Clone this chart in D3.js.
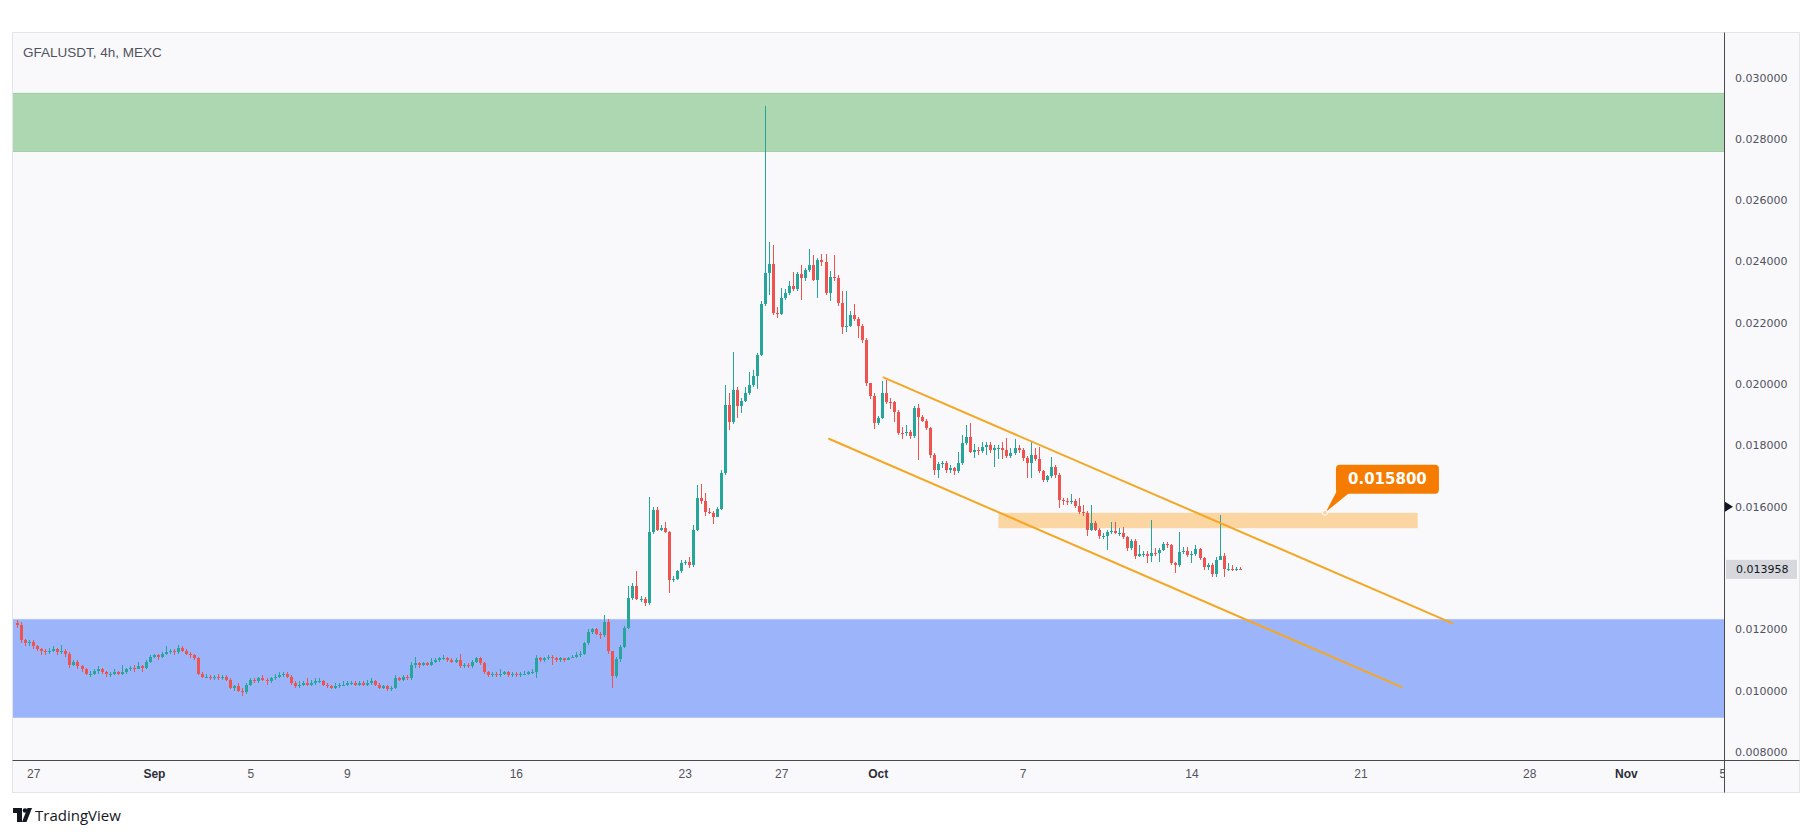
<!DOCTYPE html>
<html><head><meta charset="utf-8">
<script src="https://cdn.jsdelivr.net/npm/d3@7"></script>
<style>body{margin:0;background:#fff;} svg{display:block}</style>
</head><body>
<svg id="c" width="1814" height="836"></svg>
<script>
// ---------------- DATA ----------------
const UNIT = 1e-4;                       // prices below are in units of 0.0001
const firstCandle = Date.UTC(2024, 7, 26, 8);  // first 4h candle
const candleMs = 4 * 3600 * 1000;

const opens = [122, 121.5,
116.5,115.5,116,114.5,113.5,113,112.5,113,113.5,112.5,
113,112,108.5,109.5,108,107,105.5,105.5,106.5,107,
106,105.5,105.5,106,105.5,106,107,107.5,107,108,
107.5,109.5,111,111.5,111,112,112.5,113,112.5,114,
113,112,111.5,110.5,105.5,104.5,104.5,104,104.5,104,
104.5,103.5,101,101.5,100,99.5,102,103.5,103,104,
103.5,103,104,104.5,105,105.5,104.5,102.5,101.5,102,
102.5,102,102.5,103,103,102,101.5,101,101.5,102,
102,102.5,102.5,102,102.5,102,102.5,103,102,101,
101.5,100.5,101,104,103.5,104.5,104,108.5,109,108.5,
109,108.5,109.5,110,110.5,110.5,110,109.5,110,108,
108.5,108,109.5,110.5,109,106,105,105.5,105,105.5,
106,105,105.5,105,105.5,105.5,106,106,110.5,110,
110.5,111,110.5,110,110.5,110,110.5,111,111.5,112,
115.5,119,120,118.5,118,122.5,112.8,104.7,110.2,114.4,
120.4,130.2,134,130,130,128.5,151.9,159,152.5,153,
151.9,136.2,136.5,138.9,141.7,141.9,140.9,152.5,162.9,161.8,
158.4,158,156.6,159.3,171,193.2,187.5,198,192.7,194.6,
197.2,199.8,202.5,209.5,226,236.3,239.2,223.1,223,228,
229.8,232,231,235.9,234.7,237.2,238.9,234,240.5,239.8,
229.8,235,234.5,226.4,218.6,219,222.6,221.2,219,214.4,
200.3,196,187.3,188.9,197,194.3,194,191,184.2,184,
184.5,183,192.1,189.4,188,185.6,176.9,172,174,174.2,
172,172.5,171.5,174.2,180.7,182.9,178,178.5,178.2,179.5,
180,178.4,179,179,178.4,176.4,177.4,179,178.4,175.9,
174.4,177,175.5,171.5,168.8,169.9,172.9,170.4,162.3,161.8,
161.5,161.8,160.1,158.4,157.8,152.5,154.7,152.5,150.3,150.5,
151.9,152,151.5,151.5,150,146.5,148.7,143.8,144.6,144.6,
144,144.9,144.8,145.9,147.8,147.5,141.6,141,145.1,145.4,
144.3,144.5,146.2,143.3,140.3,141,138.1,142.7,144,139.7,
139.7,139.5,139.6];

const highs = [123,
122.5,117,116.5,116.5,115,114,113.5,114,114.5,114,
115,113.5,112.5,110,110,108.5,107.5,106.5,107,108,
107.5,106.5,106,107,106.5,108.5,107.5,108,108.5,109.5,
108.5,110,111.5,112,112,112.5,114.5,113.5,113.5,115,
114.5,113.5,112.5,112,111,106,105.5,105,105,105.5,
105,105,104,102,102.5,101,102.5,104,104,104.5,
105,104,104.5,105.5,106,106,106,105,103,103,
103,104,103.5,104,104,103.5,102.5,102,102.5,102.5,
103,103,103,103,103,103,103.5,104,103.5,102.5,
102,102,101.5,105,104.5,105,105,109.5,111,109.5,
109.5,109.5,110.5,110.5,111,111.5,111,110.5,110.5,112,
109,109,110,111,111,109.5,106.5,106,106,107,
106.5,106.5,106,106,106,106.5,106.5,107,111.5,111,
111,111.5,111.5,111,111,110.5,111,111.5,112.5,113,
116,120,120.5,120.5,119,124.8,123.5,113,111,115,
121,134,135,139,131,130.5,163.3,160,160,154,
155,152,137.5,139.5,142.5,142.5,143.5,154,167,167.5,
164.5,159.5,158.5,160,172,199.8,197,210.6,199,195.5,
199,204,204.5,210,227,290.7,246.5,245.5,225,231.5,
231,233.5,236.5,236.5,239,238,244,242,241,242.5,
242.5,237,242,235.5,230.5,230.5,224,226,222,219.5,
215,200.5,197,189.5,201,201.4,195.5,194.5,191.5,186,
186.5,185,193,193.5,190,188.5,186,177.5,174.5,175,
175,173.5,173,178,183.5,186.7,187.3,180.5,179.5,181,
181,181,180,180,181,182.5,179,182,180,179,
176.5,181,179,179.5,172,170.5,176.2,173.5,171,163,
163,164,162.5,163,160.5,158.5,160.6,155.5,153,151.5,
152.5,155,155,153,153.5,150.5,149.5,149.5,147.5,145.5,
145.5,155.8,146.5,146.5,148.5,148.5,148,142,151.9,147,
147,145.5,147.5,146.5,143.5,141.5,141.5,143.5,157.4,145,
141.5,141,140.5,140.5];

const lows = [120.5,
115.5,114.5,114.5,113.5,113,111.5,111.5,112,112.5,111.5,
112,111,107.5,108,107,106,105,104.5,105,105.5,
105.5,104.5,104.5,105,105,105,105.5,106.5,106,107,
106,107,109,110.5,110,110.5,111.5,112,111.5,112,
112.5,111.5,110.5,110,105,104,104,103.5,103.5,103.5,
103.5,103,100.5,100,99.5,98.3,99,101.5,102.5,102.5,
103,102,102.5,103.5,104,104.5,104,102,101,101,
101.5,101.5,101.5,102,102.5,101.5,101,100.5,100.5,101,
101.5,101.5,102,101.5,101.5,101.5,101.5,102,101.5,100.5,
100.5,100,100,100.5,103,103,103.5,103.5,107.5,107.5,
108,108,108,109,109.5,110,109.5,109,109,107.5,
107.5,107.5,107.5,109,108.5,105.5,104.5,104.5,104.5,104.5,
105,104.5,104.5,104.5,104.5,105,105,105.5,104,109.5,
109.5,110,108.5,109.5,109.5,109.5,110,110.5,110.5,111,
111.5,115,118.5,118,117,117.5,112,101,104,109.5,
114,120,129.5,129.5,129,127.7,128,151,152,152,
151.5,132,135.5,136,138.5,141,140,140.5,152,161,
157,157.5,154.5,156.5,159,170.5,185,187,189,190.5,
194,196.5,199,198.5,209,225.5,229,222.5,221.5,222.5,
227.5,229,230.5,230.5,227.5,233.5,236.5,233.5,228,238.5,
229,227,233.5,225.5,216.5,217,218.5,220.5,215,213.5,
199.5,195,185.5,186.5,188.5,193.5,192,187.5,183.5,182,
183,182,182.5,175.3,187.5,185,176,170.5,169.5,172.5,
171,171,170.5,171,173.5,180,177.5,176,177,177.5,
177,177.5,173,175.5,175.5,176,176,177,177.5,175,
169.5,169.5,175,171,168,168,169.5,169.5,159.5,160.5,
160.5,161,159.5,157.5,157,150.5,152,152,149.5,149.5,
146,151,151,150.5,149.5,145.5,146,143,143.5,143.5,
141.5,142,144,142,145.5,146.5,141,138.5,140.5,144.5,
143.5,141.5,144,142.5,139.5,139.5,137,137,142.5,137,
139,139,139,139.2];

const closes = [121.5,
116.5,115.5,116,114.5,113.5,113,112.5,113,113.5,112.5,
113,112,108.5,109.5,108,107,105.5,105.5,106.5,107,
106,105.5,105.5,106,105.5,106,107,107.5,107,108,
107.5,109.5,111,111.5,111,112,112.5,113,112.5,114,
113,112,111.5,110.5,105.5,104.5,104.5,104,104.5,104,
104.5,103.5,101,101.5,100,99.5,102,103.5,103,104,
103.5,103,104,104.5,105,105.5,104.5,102.5,101.5,102,
102.5,102,102.5,103,103,102,101.5,101,101.5,102,
102,102.5,102.5,102,102.5,102,102.5,103,102,101,
101.5,100.5,101,104,103.5,104.5,104,108.5,109,108.5,
109,108.5,109.5,110,110.5,110.5,110,109.5,110,108,
108.5,108,109.5,110.5,109,106,105,105.5,105,105.5,
106,105,105.5,105,105.5,105.5,106,106,110.5,110,
110.5,111,110.5,110,110.5,110,110.5,111,111.5,112,
115.5,119,120,118.5,118,122.5,112.8,104.7,110.2,114.4,
120.4,130.2,134,130,130,128.5,151.9,159,152.5,153,
151.9,136.2,136.5,138.9,141.7,141.9,140.9,152.5,162.9,161.8,
158.4,158,156.6,159.3,171,193.2,187.5,198,192.7,194.6,
197.2,199.8,202.5,209.5,226,236.3,239.2,223.1,223,228,
229.8,232,231,235.9,234.7,237.2,238.9,234,240.5,239.8,
229.8,235,234.5,226.4,218.6,219,222.6,221.2,219,214.4,
200.3,196,187.3,188.9,197,194.3,194,191,184.2,184,
184.5,183,192.1,189.4,188,185.6,176.9,172,174,174.2,
172,172.5,171.5,174.2,180.7,182.9,178,178.5,178.2,179.5,
180,178.4,179,179,178.4,176.4,177.4,179,178.4,175.9,
174.4,177,175.5,171.5,168.8,169.9,172.9,170.4,162.3,161.8,
161.5,161.8,160.1,158.4,157.8,152.5,154.7,152.5,150.3,150.5,
151.9,152,151.5,151.5,150,146.5,148.7,143.8,144.6,144.6,
144,144.9,144.8,145.9,147.8,147.5,141.6,141,145.1,145.4,
144.3,144.5,146.2,143.3,140.3,141,138.1,142.7,144,139.7,
139.7,139.5,139.6,139.58];

const priceTicks = [0.008,0.010,0.012,0.014,0.016,0.018,0.020,0.022,0.024,0.026,0.028,0.030];
const dateTicks = ["2024-08-27","2024-09-01","2024-09-05","2024-09-09","2024-09-16","2024-09-23",
                   "2024-09-27","2024-10-01","2024-10-07","2024-10-14","2024-10-21","2024-10-28",
                   "2024-11-01","2024-11-05"];
const dateLabels = ["27","Sep","5","9","16","23","27","Oct","7","14","21","28","Nov","5"];
const monthLabels = ["Sep","Oct","Nov"];

const supplyZone = [0.0276, 0.0295];        // green
const demandZone = [0.00913, 0.01234];      // blue
const keyZoneDates = ["2024-10-06T00:00Z", "2024-10-23T09:00Z"];
const keyZonePrices = [0.0153, 0.0158];
const channelUpper = [["2024-10-01T05:00Z", 0.020225], ["2024-10-24T20:20Z", 0.012188]];
const channelLower = [["2024-09-28T22:50Z", 0.018225], ["2024-10-22T17:45Z", 0.01011]];
const calloutPoint = ["2024-10-19T12:45Z", 0.0158];
const calloutText = "0.015800";
const alertPrice = 0.016;
const title = "GFALUSDT, 4h, MEXC";

// ---------------- DRAW ----------------
const svg = d3.select("#c");
const plotL = 13, plotR = 1724, plotT = 33, plotB = 760;

const x = d3.scaleUtc()
  .domain([new Date(Date.UTC(2024, 8, 1)), new Date(Date.UTC(2024, 10, 1))])
  .range([153.9, 1625.8]);
const y = d3.scaleLinear().domain([0.008, 0.030]).range([752, 77.5]);

svg.append("rect").attr("width", 1814).attr("height", 836).attr("fill", "#ffffff");
svg.append("rect").attr("x", 12.5).attr("y", 32.5).attr("width", 1787).attr("height", 760)
  .attr("fill", "#f9f9fb").attr("stroke", "#e3e5ea");

const defs = svg.append("defs");
defs.append("clipPath").attr("id", "plotClip").append("rect")
  .attr("x", plotL).attr("y", plotT).attr("width", plotR - plotL).attr("height", plotB - plotT);
defs.append("clipPath").attr("id", "xLabClip").append("rect")
  .attr("x", plotL).attr("y", plotB).attr("width", plotR - plotL).attr("height", 32);
defs.append("clipPath").attr("id", "yLabClip").append("rect")
  .attr("x", plotR).attr("y", plotT).attr("width", 80).attr("height", plotB - plotT - 1);

const plot = svg.append("g").attr("clip-path", "url(#plotClip)");

// zones
function band(p, fill, edge) {
  plot.append("rect").attr("x", plotL).attr("width", plotR - plotL)
    .attr("y", y(p[1])).attr("height", y(p[0]) - y(p[1])).attr("fill", fill);
  [p[0], p[1]].forEach(v => plot.append("line").attr("x1", plotL).attr("x2", plotR)
    .attr("y1", Math.round(y(v)) + 0.5).attr("y2", Math.round(y(v)) + 0.5)
    .attr("stroke", edge).attr("stroke-width", 1));
}
band(supplyZone, "#acd7b1", "#a3cfa8");
band(demandZone, "#9cb5fa", "#b4c6f6");

// key zone
const kz0 = x(new Date(keyZoneDates[0])), kz1 = x(new Date(keyZoneDates[1]));
plot.append("rect").attr("x", kz0).attr("width", kz1 - kz0)
  .attr("y", y(keyZonePrices[1])).attr("height", y(keyZonePrices[0]) - y(keyZonePrices[1]))
  .attr("fill", "#fcd6a2");

// candles
const times = opens.map((_, i) => new Date(firstCandle + i * candleMs));
const cg = plot.append("g").attr("shape-rendering", "crispEdges");
opens.forEach((o, i) => {
  const c = closes[i], h = highs[i], l = lows[i];
  const cx = Math.round(x(times[i]));
  const up = c >= o;
  const col = up ? "#26a69a" : "#ef5350";
  cg.append("rect").attr("x", cx).attr("width", 1)
    .attr("y", y(h * UNIT)).attr("height", Math.max(1, y(l * UNIT) - y(h * UNIT))).attr("fill", col);
  const top = y(Math.max(o, c) * UNIT), bot = y(Math.min(o, c) * UNIT);
  cg.append("rect").attr("x", cx - 1).attr("width", 3)
    .attr("y", top).attr("height", Math.max(1, bot - top)).attr("fill", col);
});

// channel lines
const lineGen = d3.line().x(d => x(new Date(d[0]))).y(d => y(d[1]));
[channelUpper, channelLower].forEach(ln => plot.append("path").attr("d", lineGen(ln))
  .attr("fill", "none").attr("stroke", "#f5a623").attr("stroke-width", 2));

// callout
const ax = x(new Date(calloutPoint[0])), ay = y(calloutPoint[1]);
const cgp = svg.append("g");
cgp.append("path").attr("d", `M${ax + 12},${ay - 22} L${ax + 27},${ay - 22} L${ax + 1},${ay - 1} Z`).attr("fill", "#f57c00");
cgp.append("rect").attr("x", ax + 11).attr("y", ay - 48).attr("width", 103).attr("height", 29)
  .attr("rx", 4).attr("fill", "#f57c00");
cgp.append("text").attr("x", ax + 62.5).attr("y", ay - 28.5).attr("text-anchor", "middle")
  .attr("font-family", "DejaVu Sans").attr("font-weight", "bold").attr("font-size", 15)
  .attr("fill", "#ffffff").text(calloutText);
cgp.append("circle").attr("cx", ax).attr("cy", ay).attr("r", 2.5)
  .attr("fill", "#fcd6a2").attr("stroke", "#ffffff").attr("stroke-width", 1);

// axes lines
svg.append("line").attr("x1", plotR + 0.5).attr("x2", plotR + 0.5).attr("y1", 32.5).attr("y2", 792.5)
  .attr("stroke", "#4a4a4a");
svg.append("line").attr("x1", 12.5).attr("x2", 1799.5).attr("y1", plotB + 0.5).attr("y2", plotB + 0.5)
  .attr("stroke", "#4a4a4a");

// price axis (clipped just above the time axis line)
const yAxis = d3.axisRight(y).tickValues(priceTicks).tickFormat(d => d.toFixed(6)).tickSize(0).tickPadding(11);
const yWrap = svg.append("g").attr("clip-path", "url(#yLabClip)");
const yg = yWrap.append("g").attr("transform", `translate(${plotR},0)`).call(yAxis);
yg.select(".domain").remove();
yg.selectAll("text").attr("font-family", "DejaVu Sans").attr("font-size", 11).attr("fill", "#50535e");

// date axis (clipped at the price axis line)
const xAxis = d3.axisBottom(x).tickValues(dateTicks.map(d => new Date(d + "T00:00Z")))
  .tickFormat((d, i) => dateLabels[i]).tickSize(0).tickPadding(9);
const xWrap = svg.append("g").attr("clip-path", "url(#xLabClip)");
const xg = xWrap.append("g").attr("transform", `translate(0,${plotB})`).call(xAxis);
xg.select(".domain").remove();
xg.selectAll("text").attr("font-family", "Liberation Sans").attr("font-size", 12)
  .attr("fill", "#50535e")
  .each(function (d, i) {
    if (monthLabels.includes(dateLabels[i])) d3.select(this).attr("font-weight", "bold").attr("fill", "#2a2e39");
  });

// last price label
const lastP = closes[closes.length - 1] * UNIT;
svg.append("rect").attr("x", plotR + 2).attr("y", y(lastP) - 9.5).attr("width", 71).attr("height", 19)
  .attr("fill", "#d6d8dd");
svg.append("text").attr("x", plotR + 12).attr("y", y(lastP) + 4).attr("font-family", "DejaVu Sans")
  .attr("font-size", 11).attr("fill", "#131722").text(lastP.toFixed(6));

// alert marker
const aY = y(alertPrice);
svg.append("path").attr("d", `M${plotR + 1},${aY - 5} L${plotR + 9},${aY} L${plotR + 1},${aY + 5} Z`).attr("fill", "#131722");

// title
svg.append("text").attr("x", 23).attr("y", 57).attr("font-family", "Liberation Sans").attr("font-size", 13.5)
  .attr("fill", "#50535e").text(title);

// TradingView brand
const lg = svg.append("g").attr("fill", "#131722");
lg.append("path").attr("d", "M13,808 H22 V822 H17 V813 H13 Z");
lg.append("circle").attr("cx", 25).attr("cy", 810.5).attr("r", 2.3);
lg.append("path").attr("d", "M27.5,808 H32 L26.5,822 H22 Z");
svg.append("text").attr("x", 35).attr("y", 820.5).attr("font-family", "Open Sans").attr("font-size", 15)
  .attr("fill", "#131722").text("TradingView");
</script>
</body></html>
